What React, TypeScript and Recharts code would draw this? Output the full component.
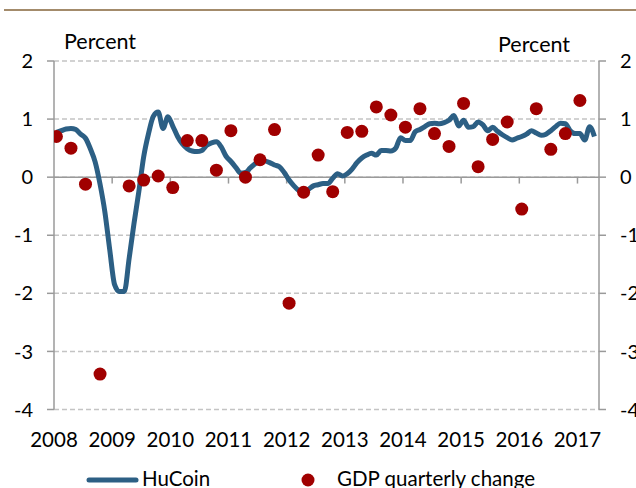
import React from "react";
import {
  ComposedChart,
  Line,
  Scatter,
  XAxis,
  YAxis,
  CartesianGrid,
  ReferenceLine,
  Legend,
} from "recharts";

// HuCoin, monthly, Jan 2008 .. Apr 2017
const hucoin = [
  0.77, 0.8, 0.83, 0.84, 0.82, 0.74, 0.67, 0.49, 0.26, -0.12, -0.6, -1.25,
  -1.85, -1.97, -1.97, -1.4, -0.8, -0.25, 0.35, 0.75, 1.05, 1.12, 0.84, 1.04,
  0.88, 0.7, 0.57, 0.49, 0.45, 0.44, 0.46, 0.55, 0.59, 0.61, 0.52, 0.36,
  0.27, 0.17, 0.07, 0.08, 0.16, 0.23, 0.29, 0.28, 0.25, 0.21, 0.18, 0.08,
  -0.05, -0.15, -0.23, -0.27, -0.21, -0.15, -0.13, -0.11, -0.11, -0.02, 0.06, 0.02,
  0.06, 0.14, 0.25, 0.33, 0.38, 0.41, 0.38, 0.46, 0.46, 0.45, 0.5, 0.68,
  0.63, 0.63, 0.78, 0.82, 0.87, 0.92, 0.93, 0.92, 0.94, 0.98, 1.06, 0.88,
  0.98, 0.86, 0.87, 0.95, 0.9, 0.8, 0.86, 0.79, 0.73, 0.68, 0.64, 0.67,
  0.7, 0.74, 0.8, 0.76, 0.72, 0.74, 0.8, 0.87, 0.93, 0.92, 0.8, 0.75,
  0.75, 0.64, 0.87, 0.7,
];

// GDP quarterly change, 2008Q1 .. 2017Q1 (2009Q1 not shown)
const gdp = [
  0.7, 0.5, -0.12, -3.39,
  null, -0.15, -0.05, 0.02,
  -0.18, 0.63, 0.63, 0.12,
  0.8, 0.0, 0.3, 0.82,
  -2.17, -0.26, 0.38, -0.25,
  0.77, 0.79, 1.21, 1.07,
  0.86, 1.18, 0.75, 0.53,
  1.27, 0.18, 0.65, 0.95,
  -0.55, 1.18, 0.48, 0.75,
  1.32,
];

const years = [2008, 2009, 2010, 2011, 2012, 2013, 2014, 2015, 2016, 2017];
const yTicks = [-4, -3, -2, -1, 0, 1, 2];

const START = 2008;
const monthToYear = (m: number) => START + (m + 0.5) / 12;

const lineData = hucoin.map((v, m) => ({ t: monthToYear(m), hucoin: v }));
const dotData = gdp
  .map((v, q) => ({ t: monthToYear(q * 3), gdp: v }))
  .filter((d) => d.gdp !== null);

const LINE_COLOR = "#2c5f84";
const DOT_COLOR = "#a00000";
const AXIS_COLOR = "#9a9a9a";
const FONT = "Lato, 'Open Sans', sans-serif";

const renderLegend = () => (
  <svg width={636} height={26} style={{ display: "block" }}>
    <line x1={89} y1={18} x2={136} y2={18} stroke={LINE_COLOR} strokeWidth={5} strokeLinecap="round" />
    <text x={142} y={24} fontFamily={FONT} fontSize={20.5} fill="#000">
      HuCoin
    </text>
    <circle cx={308} cy={18} r={6.5} fill={DOT_COLOR} />
    <text x={337} y={24} fontFamily={FONT} fontSize={20.5} fill="#000">
      GDP quarterly change
    </text>
  </svg>
);

// right axis labels are left-aligned, as in the source
const RightTick = (props: any) => (
  <text x={props.x} y={props.y} dy="0.355em" textAnchor="start" fontFamily={FONT} fontSize={20} fill="#000">
    {props.payload.value}
  </text>
);

export default function App() {
  return (
    <div style={{ position: "absolute", left: 0, top: 0, width: 636, height: 488, background: "#fff", overflow: "hidden" }}>
      <div style={{ position: "absolute", left: 4, top: 9, width: 632, height: 2, background: "#a38b6b" }} />
      <div style={{ position: "absolute", left: 64, top: 29, fontFamily: FONT, fontSize: 21.5, lineHeight: "24px" }}>Percent</div>
      <div style={{ position: "absolute", left: 498, top: 32, fontFamily: FONT, fontSize: 21.5, lineHeight: "24px" }}>Percent</div>
      <ComposedChart
        width={636}
        height={488}
        margin={{ top: 61, right: 0, bottom: 0, left: 0 }}
        style={{ fontFamily: FONT }}
      >
        <CartesianGrid vertical={false} stroke="#c4c4c4" strokeDasharray="5 3" strokeWidth={1.5} yAxisId="left" />
        <XAxis
          dataKey="t"
          type="number"
          domain={[2008, 2017.37]}
          ticks={years}
          allowDataOverflow
          axisLine={false}
          tickLine={false}
          tickSize={0}
          tickMargin={23}
          height={52.5}
          tick={{ fill: "#000", fontSize: 20.5 }}
        />
        <YAxis
          yAxisId="left"
          domain={[-4, 2]}
          ticks={yTicks}
          allowDataOverflow
          width={54}
          axisLine={{ stroke: AXIS_COLOR, strokeWidth: 1.5 }}
          tickLine={{ stroke: AXIS_COLOR, strokeWidth: 1.5 }}
          tickSize={7}
          tickMargin={14}
          tick={{ fill: "#000", fontSize: 20 }}
        />
        <YAxis
          yAxisId="right"
          orientation="right"
          domain={[-4, 2]}
          ticks={yTicks}
          allowDataOverflow
          width={37}
          axisLine={{ stroke: AXIS_COLOR, strokeWidth: 1.5 }}
          tickLine={{ stroke: AXIS_COLOR, strokeWidth: 1.5 }}
          tickSize={7}
          tickMargin={14}
          tick={RightTick}
        />
        <ReferenceLine yAxisId="left" y={0} stroke={AXIS_COLOR} strokeWidth={1.5} />
        {years.slice(1).map((yr) => (
          <ReferenceLine
            key={yr}
            yAxisId="left"
            segment={[
              { x: yr, y: 0 },
              { x: yr, y: -0.11 },
            ]}
            stroke={AXIS_COLOR}
            strokeWidth={1.5}
          />
        ))}
        <Line
          yAxisId="left"
          data={lineData}
          dataKey="hucoin"
          type="monotone"
          stroke={LINE_COLOR}
          strokeWidth={5}
          dot={false}
          activeDot={false}
          isAnimationActive={false}
        />
        {/* same -4..2 scale as the left axis */}
        <Scatter
          yAxisId="right"
          data={dotData}
          dataKey="gdp"
          fill={DOT_COLOR}
          shape={(p: any) => <circle cx={p.cx} cy={p.cy} r={6.5} fill={DOT_COLOR} />}
          isAnimationActive={false}
        />
        <Legend verticalAlign="bottom" height={26} content={renderLegend} />
      </ComposedChart>
    </div>
  );
}
